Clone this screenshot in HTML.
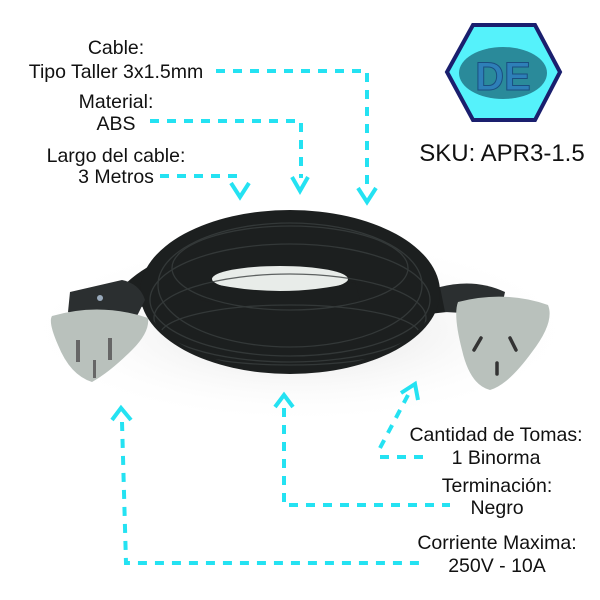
<!DOCTYPE html>
<html><head><meta charset="utf-8"><style>
html,body{margin:0;padding:0;background:#fff}
svg{display:block}
text{font-family:"Liberation Sans",sans-serif;fill:#111}
</style></head><body>
<svg width="600" height="600" viewBox="0 0 600 600" xmlns="http://www.w3.org/2000/svg">
<defs>
<radialGradient id="sh" cx="50%" cy="50%" r="50%"><stop offset="0" stop-color="#ddd"/><stop offset="1" stop-color="#fff" stop-opacity="0"/></radialGradient>
<clipPath id="cc"><ellipse cx="290" cy="290" rx="148" ry="80"/></clipPath>
</defs>
<ellipse cx="300" cy="330" rx="280" ry="95" fill="url(#sh)"/>
<!-- cable coil -->
<path d="M110 310 Q120 270 200 245 L210 300 Z" fill="#1c1f1f"/>
<path d="M420 290 Q445 282 470 295 L465 310 L420 315 Z" fill="#1c1f1f"/>
<ellipse cx="290" cy="292" rx="150" ry="82" fill="#1c1f1f"/>
<ellipse cx="280" cy="279" rx="68" ry="13" fill="#e8ece9"/>
<path d="M205 282 Q280 300 355 282 L360 300 Q280 318 200 300 Z" fill="#1c1f1f"/>
<g fill="none" stroke="#3a3f3f" stroke-width="1.3" opacity="0.8" clip-path="url(#cc)">
<ellipse cx="290" cy="268" rx="118" ry="42"/>
<ellipse cx="290" cy="300" rx="140" ry="56"/>
<ellipse cx="290" cy="318" rx="136" ry="44"/>
<ellipse cx="290" cy="335" rx="130" ry="30"/>
<ellipse cx="290" cy="285" rx="132" ry="62"/>
</g>
<!-- left plug -->
<path d="M70 292 L122 280 Q140 284 145 300 L135 320 Q100 328 68 312 Z" fill="#2b2f30"/>
<circle cx="100" cy="298" r="3" fill="#9ab"/>
<path d="M52 316 Q100 302 148 318 Q150 332 132 350 Q110 372 92 382 Q70 375 58 345 Q48 322 52 316 Z" fill="#b9c1bc"/>
<rect x="76" y="340" width="4" height="22" fill="#666"/>
<rect x="108" y="338" width="4" height="22" fill="#666"/>
<rect x="93" y="360" width="3" height="18" fill="#666"/>
<!-- right plug -->
<path d="M440 287 Q475 278 505 292 L500 315 L445 312 Z" fill="#2b2f30"/>
<path d="M458 302 Q505 290 548 305 Q555 322 532 352 Q508 385 490 390 Q470 385 462 350 Q453 315 458 302 Z" fill="#b9c1bc"/>
<g stroke="#333" stroke-width="3.5" stroke-linecap="round"><line x1="474" y1="350" x2="481" y2="338"/><line x1="516" y1="350" x2="510" y2="338"/><line x1="497" y1="374" x2="497" y2="363"/></g>
<!-- logo -->
<polygon points="473,25 535,25 560,72 535,120 473,120 447,72" fill="#55f2fb" stroke="#1a1f6e" stroke-width="4"/>
<ellipse cx="503" cy="73" rx="44" ry="26" fill="#2a8a9a"/>
<text x="503" y="90" text-anchor="middle" font-size="40" font-weight="bold" style="fill:#2e7fb8;stroke:#1a4f80;stroke-width:1">DE</text>
<text x="502" y="161" text-anchor="middle" font-size="24">SKU: APR3-1.5</text>
<!-- labels -->
<g font-size="19.5" text-anchor="middle">
<text x="116" y="54">Cable:</text>
<text x="116" y="78">Tipo Taller 3x1.5mm</text>
<text x="116" y="108">Material:</text>
<text x="116" y="130">ABS</text>
<text x="116" y="162">Largo del cable:</text>
<text x="116" y="183">3 Metros</text>
<text x="496" y="441">Cantidad de Tomas:</text>
<text x="496" y="464">1 Binorma</text>
<text x="497" y="492">Terminación:</text>
<text x="497" y="514">Negro</text>
<text x="497" y="549">Corriente Maxima:</text>
<text x="497" y="572">250V - 10A</text>
</g>
<!-- connectors -->
<g fill="none" stroke="#24e2f2" stroke-width="4">
<g stroke-dasharray="9 8">
<path d="M216 71 H367 V190"/>
<path d="M150 121 H301 V178"/>
<path d="M160 176 H237 V183"/>
<path d="M122 422 L126 563 H424"/>
<path d="M284 408 V505 H450"/>
<path d="M380 457 H430"/>
<path d="M380 448 L408 395"/>
</g>
<path d="M358 188 L367 202 L376 188"/>
<path d="M292 177 L300 191 L308 177"/>
<path d="M231 183 L240 197 L249 183"/>
<path d="M112 420 L121 408 L131 420"/>
<path d="M275 407 L284 395 L293 407"/>
<path d="M401 393 L415 384 L418 400"/>
</g>
</svg>
</body></html>
